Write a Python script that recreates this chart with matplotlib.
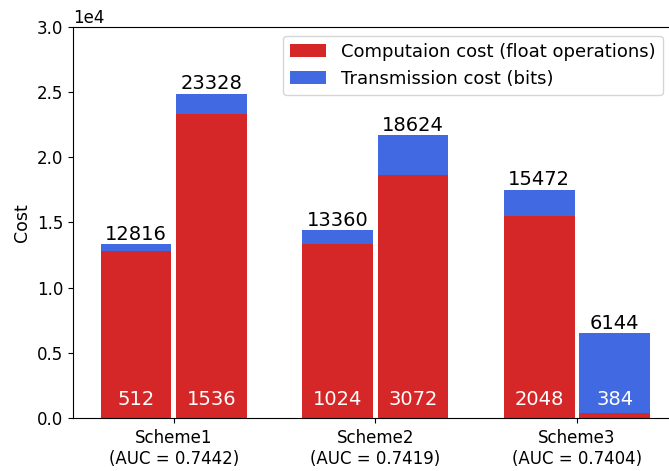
import numpy as np
import matplotlib
matplotlib.use('Agg')
import matplotlib.pyplot as plt

schemes = ['Scheme1\n(AUC = 0.7442)', 'Scheme2\n(AUC = 0.7419)', 'Scheme3\n(AUC = 0.7404)']
# two bars per scheme, left then right
comp_left = [12816, 13360, 15472]
trans_left = [512, 1024, 2048]
comp_right = [23328, 18624, 384]
trans_right = [1536, 3072, 6144]

red = '#d62728'
blue = '#4169e1'

fig = plt.figure(figsize=(6.69, 4.71), dpi=100)
ax = fig.add_axes([0.109, 0.1125, 0.895, 0.8305])

x = np.arange(len(schemes))
w = 0.35
off = 0.187


def draw(xs, comp, trans, with_label):
	ax.bar(xs, comp, w, color=red, label='Computaion cost (float operations)' if with_label else None)
	ax.bar(xs, trans, w, bottom=comp, color=blue, label='Transmission cost (bits)' if with_label else None)
	for xi, c, t in zip(xs, comp, trans):
		ax.text(xi, c + t + 30, str(max(c, t)), ha='center', va='bottom', fontsize=14)
		ax.text(xi, 1400, str(min(c, t)), ha='center', va='center', fontsize=14, color='white')


draw(x - off, comp_left, trans_left, True)
draw(x + off, comp_right, trans_right, False)

ax.set_xticks(x)
ax.set_xticklabels(schemes, fontsize=12)
ax.tick_params(axis='x', pad=4.5)
ax.set_xlim(-0.5, 2.47)
ax.set_ylim(0, 30000)
ax.set_yticks(np.arange(0, 30001, 5000))
ax.ticklabel_format(axis='y', style='sci', scilimits=(0, 0))
ax.yaxis.get_offset_text().set_fontsize(12)
ax.tick_params(axis='y', labelsize=12)
ax.set_ylabel('Cost', fontsize=12.5)
ax.spines['right'].set_visible(False)
ax.legend(loc='upper right', fontsize=13)

fig.savefig('out.png', dpi=100)
